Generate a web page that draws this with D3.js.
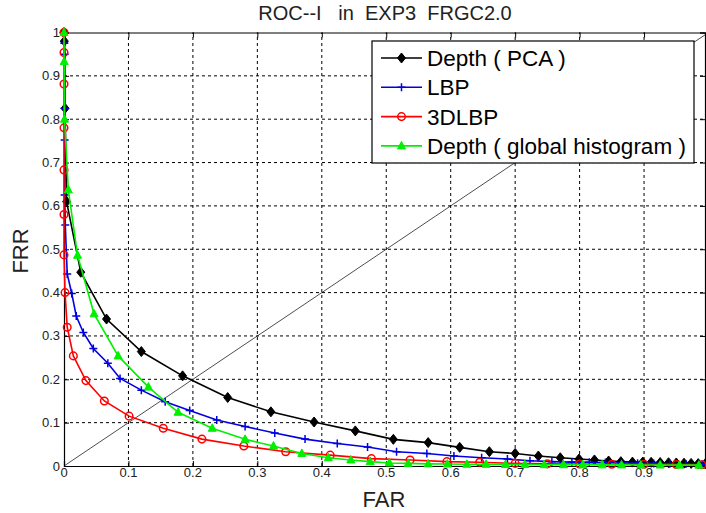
<!DOCTYPE html>
<html>
<head>
<meta charset="utf-8">
<script src="https://cdn.jsdelivr.net/npm/d3@7"></script>
<style>
body { margin: 0; background: #fff; }
svg { display: block; font-family: Arial, "Liberation Sans", Helvetica, sans-serif; }
</style>
</head>
<body>
<div id="main"></div>
<script>
var width = 706;
var height = 513;

// FAR / FRR pairs
var pcaFar = [0, 0.0005, 0.0016, 0.004, 0.026, 0.066, 0.12, 0.184, 0.254, 0.321, 0.388, 0.452, 0.511, 0.565, 0.614, 0.66, 0.70, 0.736, 0.77, 0.799, 0.823, 0.845, 0.864, 0.882, 0.898, 0.911, 0.925, 0.938, 0.95, 0.962, 0.973, 0.984, 0.995];
var pcaFrr = [1, 0.98, 0.825, 0.61, 0.447, 0.339, 0.264, 0.208, 0.158, 0.125, 0.1015, 0.081, 0.0615, 0.054, 0.043, 0.033, 0.029, 0.023, 0.019, 0.016, 0.014, 0.0115, 0.010, 0.009, 0.009, 0.0085, 0.008, 0.0075, 0.007, 0.0065, 0.006, 0.0055, 0.005];

var lbpFar = [0, 0.0005, 0.001, 0.001, 0.001, 0.001, 0.002, 0.005, 0.012, 0.019, 0.030, 0.0455, 0.068, 0.087, 0.12, 0.157, 0.195, 0.237, 0.281, 0.327, 0.374, 0.424, 0.471, 0.516, 0.563, 0.605, 0.648, 0.688, 0.723, 0.757, 0.788, 0.815, 0.84, 0.865, 0.89, 0.915, 0.94, 0.965, 0.99];
var lbpFrr = [1, 0.975, 0.95, 0.825, 0.752, 0.625, 0.556, 0.443, 0.398, 0.346, 0.308, 0.271, 0.237, 0.202, 0.175, 0.148, 0.128, 0.106, 0.091, 0.076, 0.062, 0.052, 0.044, 0.033, 0.029, 0.023, 0.019, 0.016, 0.012, 0.010, 0.009, 0.0085, 0.008, 0.007, 0.0065, 0.006, 0.005, 0.0045, 0.004];

var lbp3dFar = [0, 0, 0, 0, 0, 0, 0, 0.0016, 0.005, 0.0145, 0.034, 0.0626, 0.101, 0.154, 0.214, 0.279, 0.344, 0.413, 0.477, 0.537, 0.594, 0.645, 0.70, 0.75, 0.80, 0.85, 0.90, 0.95, 0.99];
var lbp3dFrr = [1, 0.954, 0.881, 0.78, 0.683, 0.58, 0.487, 0.40, 0.32, 0.254, 0.197, 0.150, 0.115, 0.087, 0.062, 0.046, 0.033, 0.025, 0.017, 0.014, 0.010, 0.0085, 0.006, 0.005, 0.0045, 0.004, 0.004, 0.0035, 0.003];

var histFar = [0, 0.0003, 0.0008, 0.0067, 0.021, 0.0466, 0.084, 0.131, 0.177, 0.23, 0.281, 0.325, 0.369, 0.41, 0.445, 0.475, 0.505, 0.534, 0.565, 0.595, 0.625, 0.655, 0.685, 0.715, 0.745, 0.775, 0.805, 0.835, 0.865, 0.895, 0.925, 0.955, 0.985];
var histFrr = [1, 0.933, 0.80, 0.637, 0.486, 0.351, 0.254, 0.182, 0.124, 0.087, 0.0615, 0.046, 0.029, 0.019, 0.014, 0.010, 0.007, 0.006, 0.005, 0.0045, 0.004, 0.0038, 0.0035, 0.0033, 0.003, 0.003, 0.0028, 0.0026, 0.0025, 0.0023, 0.0022, 0.002, 0.002];

var seriesNames = ['Depth ( PCA )', 'LBP', '3DLBP', 'Depth ( global histogram )'];
var seriesColors = ['#000000', '#0000e0', '#ff0000', '#00f000'];
var seriesMarkers = ['diamond', 'plus', 'circle', 'triangle'];
var seriesData = [[pcaFar, pcaFrr], [lbpFar, lbpFrr], [lbp3dFar, lbp3dFrr], [histFar, histFrr]];

var ticks = [0, 0.1, 0.2, 0.3, 0.4, 0.5, 0.6, 0.7, 0.8, 0.9];
var yTicks = [0, 0.1, 0.2, 0.3, 0.4, 0.5, 0.6, 0.7, 0.8, 0.9, 1];

var xScale = d3.scaleLinear().domain([0, 1]).range([64, 708.5]);
var yScale = d3.scaleLinear().domain([0, 1]).range([466, 32.5]);

var svg = d3.select('#main').append('svg')
    .attr('width', width)
    .attr('height', height);

// dashed grid
svg.append('g').selectAll('line')
    .data(ticks.slice(1))
    .enter().append('line')
    .attr('x1', function(d) { return xScale(d); })
    .attr('x2', function(d) { return xScale(d); })
    .attr('y1', yScale(0)).attr('y2', yScale(1))
    .attr('stroke', '#000').attr('stroke-width', 1)
    .attr('stroke-dasharray', '3,3');

svg.append('g').selectAll('line')
    .data(yTicks.slice(1, -1))
    .enter().append('line')
    .attr('y1', function(d) { return yScale(d); })
    .attr('y2', function(d) { return yScale(d); })
    .attr('x1', xScale(0)).attr('x2', xScale(1))
    .attr('stroke', '#000').attr('stroke-width', 1)
    .attr('stroke-dasharray', '3,3');

// axes (ticks pointing inward, like matlab)
var xAxis = d3.axisTop(xScale).tickValues(ticks).tickSize(5).tickFormat('');
svg.append('g').attr('transform', 'translate(0,' + yScale(0) + ')').call(xAxis);
svg.append('g').attr('transform', 'translate(0,' + yScale(1) + ')').call(d3.axisBottom(xScale).tickValues(ticks).tickSize(5).tickFormat(''));
svg.append('g').attr('transform', 'translate(' + xScale(0) + ',0)').call(d3.axisRight(yScale).tickValues(yTicks).tickSize(5).tickFormat(''));
svg.append('g').attr('transform', 'translate(' + (width - 1) + ',0)').call(d3.axisLeft(yScale).tickValues(yTicks).tickSize(5).tickFormat(''));
svg.selectAll('.domain').attr('stroke', '#000').attr('stroke-width', 1.2);

// tick labels
svg.append('g').selectAll('text')
    .data(ticks)
    .enter().append('text')
    .attr('x', function(d) { return xScale(d); })
    .attr('y', 477)
    .attr('text-anchor', 'middle')
    .attr('font-size', 13)
    .attr('fill', '#222')
    .text(function(d) { return d === 0 ? '0' : d3.format('.1f')(d); });

svg.append('g').selectAll('text')
    .data(yTicks)
    .enter().append('text')
    .attr('x', 60)
    .attr('y', function(d) { return yScale(d) + 4.5; })
    .attr('text-anchor', 'end')
    .attr('font-size', 13)
    .attr('fill', '#222')
    .text(function(d) { return d === 0 ? '0' : (d === 1 ? '1' : d3.format('.1f')(d)); });

// diagonal
svg.append('line')
    .attr('x1', xScale(0)).attr('y1', yScale(0))
    .attr('x2', xScale(1)).attr('y2', yScale(1))
    .attr('stroke', '#000').attr('stroke-width', 0.7);

function drawMarker(g, type, color) {
    if (type === 'diamond') {
        g.append('path').attr('d', 'M0,-5L4,0L0,5L-4,0Z').attr('fill', color).attr('stroke', color);
    } else if (type === 'plus') {
        g.append('path').attr('d', 'M-4,0H4M0,-4V4').attr('stroke', color).attr('stroke-width', 1.5);
    } else if (type === 'circle') {
        g.append('circle').attr('r', 3.8).attr('fill', 'none').attr('stroke', color).attr('stroke-width', 1.5);
    } else {
        g.append('path').attr('d', 'M0,-4.5L4,3L-4,3Z').attr('fill', color).attr('stroke', color);
    }
}

var line = d3.line()
    .x(function(d) { return xScale(d[0]); })
    .y(function(d) { return yScale(d[1]); });

seriesData.forEach(function(s, k) {
    var pts = s[0].map(function(v, i) { return [v, s[1][i]]; });
    svg.append('path')
        .datum(pts)
        .attr('d', line)
        .attr('fill', 'none')
        .attr('stroke', seriesColors[k])
        .attr('stroke-width', 1.6);
    pts.forEach(function(p) {
        var g = svg.append('g').attr('transform', 'translate(' + xScale(p[0]) + ',' + yScale(p[1]) + ')');
        drawMarker(g, seriesMarkers[k], seriesColors[k]);
    });
});

// legend
var legend = svg.append('g');
legend.append('rect')
    .attr('x', 372).attr('y', 41).attr('width', 322).attr('height', 122)
    .attr('fill', '#fff').attr('stroke', '#000').attr('stroke-width', 1.2);
seriesNames.forEach(function(name, k) {
    var y = 58 + k * 29.3;
    legend.append('line')
        .attr('x1', 381).attr('x2', 422).attr('y1', y).attr('y2', y)
        .attr('stroke', seriesColors[k]).attr('stroke-width', 1.6);
    drawMarker(legend.append('g').attr('transform', 'translate(401.5,' + y + ')'), seriesMarkers[k], seriesColors[k]);
    legend.append('text')
        .attr('x', 427).attr('y', y + 8)
        .attr('font-size', 22.5)
        .text(name);
});

// title and axis labels
svg.append('text')
    .attr('x', 385).attr('y', 20)
    .attr('text-anchor', 'middle')
    .attr('font-size', 20)
    .attr('fill', '#222')
    .style('white-space', 'pre')
    .text('ROC--I   in  EXP3  FRGC2.0');

svg.append('text')
    .attr('x', 384).attr('y', 507)
    .attr('text-anchor', 'middle')
    .attr('font-size', 22)
    .attr('fill', '#222')
    .text('FAR');

svg.append('text')
    .attr('transform', 'translate(28,251) rotate(-90)')
    .attr('text-anchor', 'middle')
    .attr('font-size', 22)
    .attr('fill', '#222')
    .text('FRR');
</script>
</body>
</html>
